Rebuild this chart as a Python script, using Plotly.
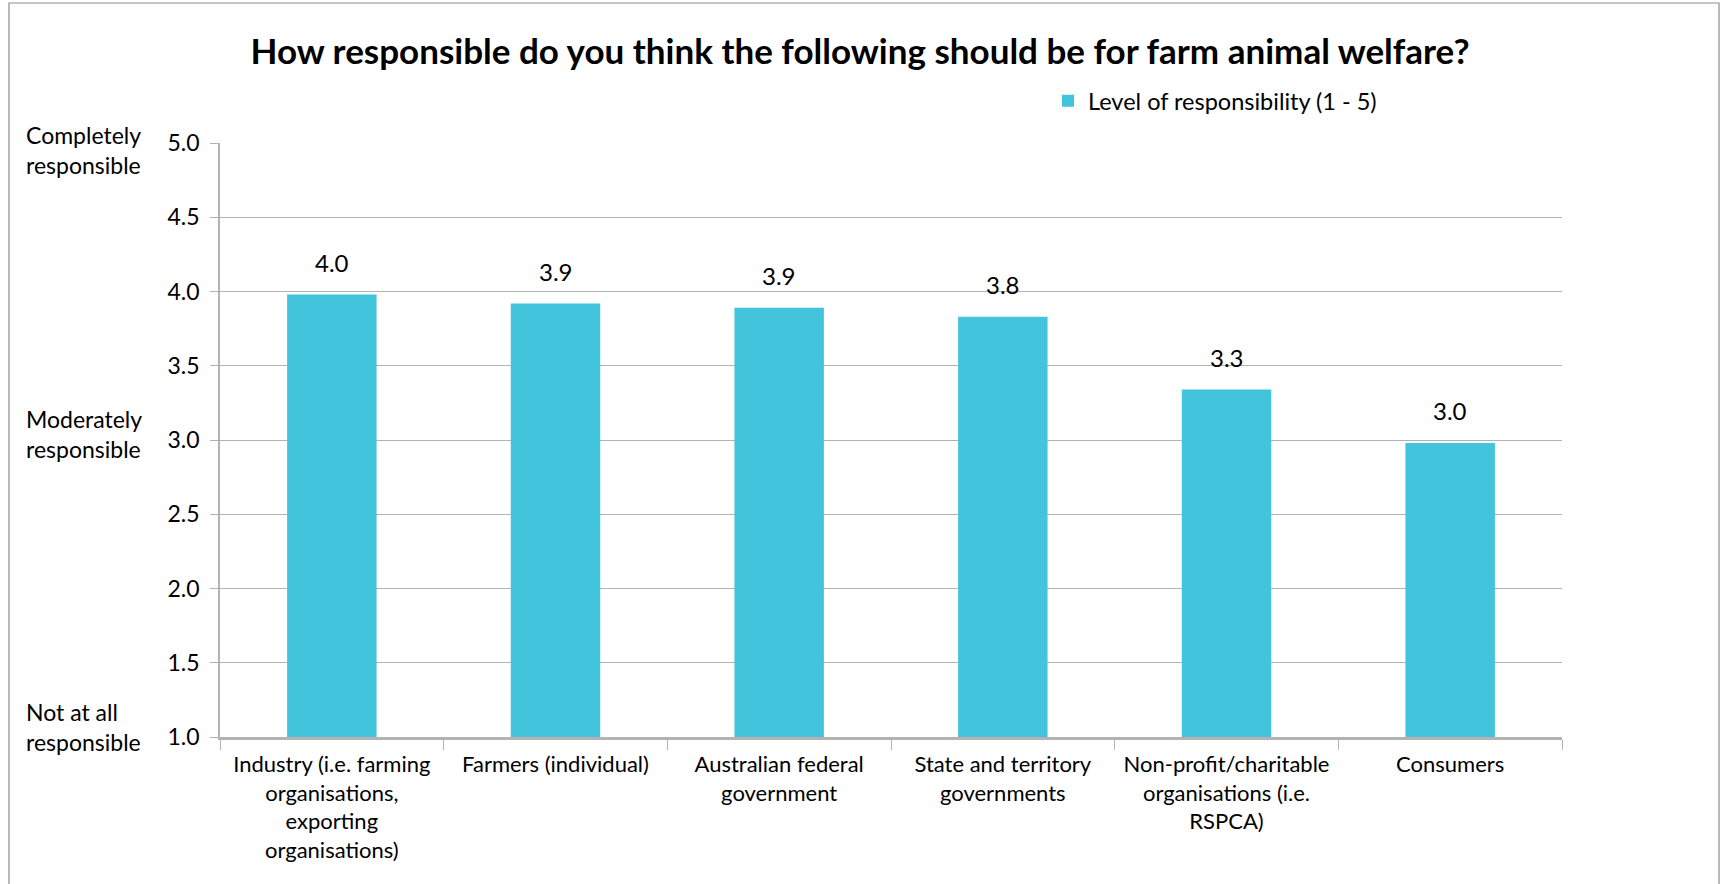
import plotly.graph_objects as go

categories = [
    "Industry (i.e. farming<br>organisations,<br>exporting<br>organisations)",
    "Farmers (individual)",
    "Australian federal<br>government",
    "State and territory<br>governments",
    "Non-profit/charitable<br>organisations (i.e.<br>RSPCA)",
    "Consumers",
]
values = [3.98, 3.92, 3.89, 3.83, 3.34, 2.98]
series_name = "Level of responsibility (1 - 5)"
y_ticks = [1.0, 1.5, 2.0, 2.5, 3.0, 3.5, 4.0, 4.5, 5.0]
side_labels = ["Completely<br>responsible", "Moderately<br>responsible", "Not at all<br>responsible"]
side_label_levels = [5.0, 3.0, 1.0]

FONT = "Lato, 'Open Sans', sans-serif"
BAR = "#42C4DC"
GRID = "#B3B3B3"

W, H = 1721, 884
L, R, T, B = 220, W - 1562, 143, H - 737
pw, ph = W - L - R, H - T - B


def px_x(px):
    return (px - L) / pw


def px_y(py):
    return (H - B - py) / ph


fig = go.Figure()
fig.add_trace(go.Bar(
    x=categories, y=values, name=series_name,
    marker=dict(color=BAR, line=dict(width=0)),
    width=0.4,
    showlegend=True,
))

annotations = []
# value labels above bars
for c, v in zip(categories, values):
    annotations.append(dict(
        x=c, y=v, xref="x", yref="y", text=f"{v:.1f}", showarrow=False,
        xanchor="center", yanchor="middle", yshift=32,
        font=dict(size=24, color="#000000", family=FONT),
    ))
# descriptive labels at left
side_shift = [-7, 6, 10]
for lvl, txt, sh in zip(side_label_levels, side_labels, side_shift):
    annotations.append(dict(
        xref="paper", yref="y", x=px_x(24), y=lvl, yshift=sh,
        text=txt, showarrow=False, xanchor="left", yanchor="middle", align="left",
        font=dict(size=23, color="#000000", family=FONT),
    ))

fig.update_layout(
    width=W, height=H,
    margin=dict(l=L, r=R, t=T, b=B),
    paper_bgcolor="white", plot_bgcolor="white",
    font=dict(family=FONT, color="#000000"),
    title=dict(
        text="<b>How responsible do you think the following should be for farm animal welfare?</b>",
        x=860 / W, xanchor="center", y=1 - 52 / H, yanchor="middle",
        font=dict(size=35, family=FONT, color="#000000"),
    ),
    showlegend=True,
    legend=dict(
        x=px_x(1048), y=px_y(101), xanchor="left", yanchor="middle",
        orientation="h", font=dict(size=23.5, family=FONT, color="#000000"),
        bgcolor="rgba(0,0,0,0)",
    ),
    bargap=0.6,
    annotations=annotations,
    shapes=[dict(
        type="rect", xref="paper", yref="paper",
        x0=px_x(9), x1=px_x(1719), y0=px_y(1000), y1=px_y(3),
        line=dict(color="#8C8C8C", width=1.2), fillcolor="rgba(0,0,0,0)", layer="below",
    )],
)

fig.update_yaxes(
    range=[1.0, 5.0], tickvals=y_ticks, ticktext=[f"{v:.1f}" for v in y_ticks],
    showgrid=True, gridcolor=GRID, gridwidth=1,
    showline=True, linecolor=GRID, linewidth=1.5,
    ticks="outside", ticklen=8, tickcolor=GRID,
    ticklabelstandoff=6,
    tickfont=dict(size=23, family=FONT, color="#000000"),
    zeroline=False,
)
fig.update_xaxes(
    showline=True, linecolor=GRID, linewidth=2.5,
    ticks="outside", ticklen=10, tickcolor=GRID, tickson="boundaries",
    ticklabelstandoff=6,
    tickfont=dict(size=22, family=FONT, color="#000000"),
    tickangle=0, showgrid=False,
)

fig.write_html("out.html", config={"displayModeBar": False},
               post_script="document.body.style.margin='0';")
